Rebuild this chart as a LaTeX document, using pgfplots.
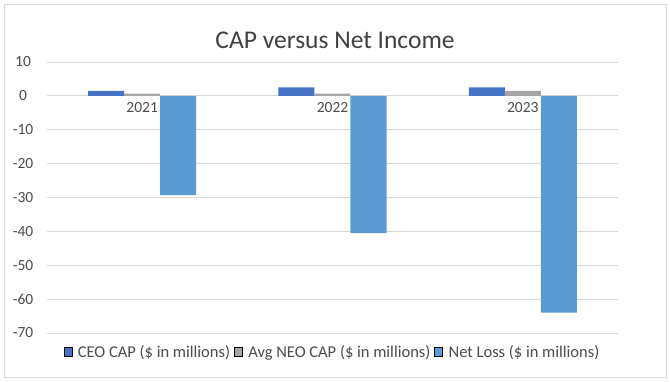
\documentclass[border=0pt]{standalone}
\usepackage{pgfplots}
\pgfplotsset{compat=1.18}
\usepackage{fontspec}
\setmainfont{Carlito}
\definecolor{ceo}{HTML}{4472C4}
\definecolor{neo}{HTML}{A5A5A5}
\definecolor{net}{HTML}{5B9BD5}
\definecolor{grid}{HTML}{D9D9D9}
\begin{document}
\begin{tikzpicture}[x=1pt,y=1pt]
\path[use as bounding box] (0,0) rectangle (670,381);
\draw[draw=grid, line width=0.8pt] (4,4) rectangle (666,377);
\node[font=\fontsize{25.5}{28}\selectfont, text=black!75] at (335,341) {CAP versus Net Income};
\begin{axis}[
  at={(47pt,48pt)}, anchor=south west,
  scale only axis, width=571pt, height=271pt,
  xmin=-0.5, xmax=2.5, ymin=-70, ymax=10,
  ytick={-70,-60,...,10},
  xtick={0,1,2}, xticklabels={2021,2022,2023},
  axis x line*=middle, axis y line*=left,
  x axis line style={draw=grid, line width=0.8pt},
  y axis line style={draw=none},
  major tick length=0pt,
  ymajorgrids, grid style={draw=grid, line width=0.8pt},
  ybar, bar width=36pt,
  /pgf/number format/assume math mode=true,
  tick label style={font=\fontsize{15.5}{17}\selectfont, text=black!70},
  yticklabel style={anchor=center, xshift=-24pt},
  xticklabel style={anchor=north, yshift=-3pt},
  legend style={draw=none, at={(0.5,-0.07)}, anchor=center,
    font=\fontsize{16.5}{18}\selectfont, text=black!70, legend columns=3,
    column sep=2pt},
  legend image code/.code={\draw[#1] (0pt,-4.5pt) rectangle (8pt,4.5pt); \path (0pt,0pt) -- (10pt,0pt);},
  clip=false, axis on top=false,
]
\addplot[fill=ceo, draw=none, bar shift=-36pt] coordinates {(0,1.5) (1,2.5) (2,2.5)};
\addplot[fill=neo, draw=none, bar shift=0pt] coordinates {(0,0.7) (1,0.7) (2,1.5)};
\addplot[fill=net, draw=none, bar shift=36pt] coordinates {(0,-29.3) (1,-40.5) (2,-64.0)};
\legend{CEO CAP (\$ in millions), Avg NEO CAP (\$ in millions), Net Loss (\$ in millions)}
\end{axis}
\end{tikzpicture}
\end{document}
